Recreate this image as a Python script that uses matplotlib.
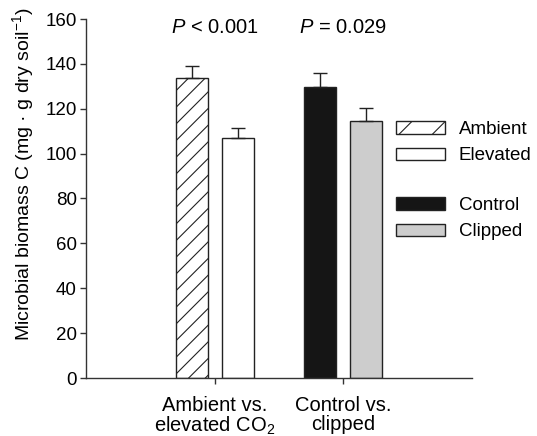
import matplotlib
matplotlib.use("Agg")
import matplotlib.pyplot as plt
from matplotlib.patches import Patch

plt.rcParams['font.family'] = ['Liberation Sans', 'DejaVu Sans']
plt.rcParams['mathtext.fontset'] = 'custom'
plt.rcParams['mathtext.rm'] = 'Liberation Sans'
plt.rcParams['mathtext.it'] = 'Liberation Sans:italic'
plt.rcParams['mathtext.default'] = 'regular'
plt.rcParams['hatch.linewidth'] = 0.8

# data
groups = ['Ambient vs.\nelevated CO$_2$', 'Control vs.\nclipped']
left_names = ['Ambient', 'Control']
right_names = ['Elevated', 'Clipped']
left_vals = [133.5, 129.5]
left_err = [5.5, 6.5]
right_vals = [106.8, 114.5]
right_err = [4.5, 5.7]
p_labels = ['$\\it{P}$ < 0.001', '$\\it{P}$ = 0.029']

fs = 13.5

fig = plt.figure(figsize=(5.37, 4.36), dpi=100)
ax = fig.add_axes([86 / 537, 58 / 436, 386 / 537, 359 / 436])

x = [0, 1]
w = 0.25
off = 0.176
edge = '#222222'

bl = ax.bar([i - off for i in x], left_vals, width=w, edgecolor=edge, linewidth=1.0,
            yerr=[[0, 0], left_err], capsize=5, error_kw=dict(ecolor=edge, elinewidth=1.0, capthick=1.0))
br = ax.bar([i + off for i in x], right_vals, width=w, edgecolor=edge, linewidth=1.0,
            yerr=[[0, 0], right_err], capsize=5, error_kw=dict(ecolor=edge, elinewidth=1.0, capthick=1.0))

# group 1: ambient hatched / elevated white ; group 2: control black / clipped gray
bl[0].set_facecolor('white')
bl[0].set_hatch('//')
br[0].set_facecolor('white')
bl[1].set_facecolor('#151515')
br[1].set_facecolor('#cdcdcd')

for i, lab in enumerate(p_labels):
    ax.text(x[i], 156, lab, ha='center', va='center', fontsize=14.5)

ax.set_xlim(-1.008, 2.008)
ax.set_ylim(0, 160)
ax.set_yticks(range(0, 161, 20))
ax.set_xticks(x)
ax.set_xticklabels(groups, fontsize=14.5, linespacing=1.0)
ax.tick_params(axis='y', labelsize=fs, length=4.5, width=1.0, pad=2, color='#333333')
ax.tick_params(axis='x', length=4, width=1.0, pad=9, color='#333333')
for s in ['top', 'right']:
    ax.spines[s].set_visible(False)
for s in ['left', 'bottom']:
    ax.spines[s].set_linewidth(1.0)
    ax.spines[s].set_color('#333333')

ax.set_ylabel('Microbial biomass C (mg · g dry soil$^{-1}$)', fontsize=14)
ax.yaxis.set_label_coords(-0.13, 0.568)

h1 = [Patch(facecolor='white', edgecolor=edge, hatch='/', label=left_names[0]),
      Patch(facecolor='white', edgecolor=edge, label=right_names[0])]
h2 = [Patch(facecolor='#151515', edgecolor=edge, label=left_names[1]),
      Patch(facecolor='#cdcdcd', edgecolor=edge, label=right_names[1])]
leg_kw = dict(loc='upper left', frameon=False, fontsize=fs, handlelength=2.6,
              handleheight=0.65, handletextpad=0.75, labelspacing=0.5,
              borderpad=0, borderaxespad=0)
leg1 = fig.legend(handles=h1, bbox_to_anchor=(396 / 537, 1 - 121 / 436), **leg_kw)
leg2 = fig.legend(handles=h2, bbox_to_anchor=(396 / 537, 1 - 197 / 436), **leg_kw)

fig.savefig('out.png', dpi=100)
